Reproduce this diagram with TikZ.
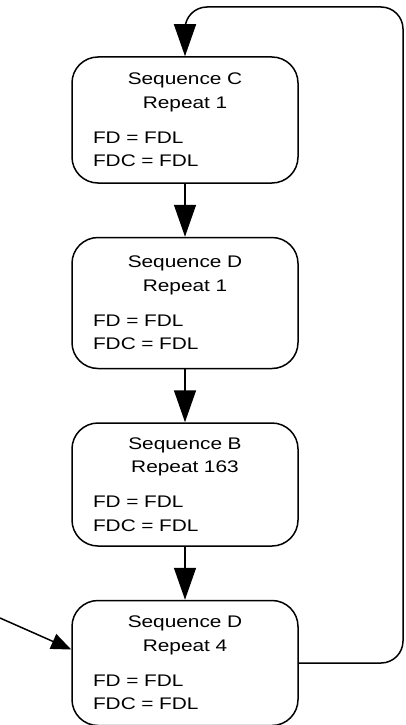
\documentclass[tikz,border=0pt]{standalone}
\usepackage{fontspec}
\setmainfont[FakeStretch=1.24]{Liberation Sans}
\usetikzlibrary{arrows.meta, positioning}

\newcommand{\seqtext}[2]{{\centering Sequence #1\\Repeat #2\par}\vspace{11.5pt}FD = FDL\\FDC = FDL}

\begin{document}
\begin{tikzpicture}[x=1pt, y=-1pt,
  node distance=53pt,
  seq/.style={draw, line width=1.5pt, rounded corners=26pt, text width=184pt,
              inner xsep=21pt, inner ysep=3pt, minimum height=125pt,
              font=\fontsize{16.8}{23.5}\selectfont},
  arr/.style={-{Triangle[length=32pt, width=22pt]}, line width=1.5pt}]
\useasboundingbox (0,0) rectangle (405,725);
\node[seq, minimum height=126pt] (c) at (185,120) {\seqtext{C}{1}};
\node[seq, minimum height=131pt, below=of c] (d1) {\seqtext{D}{1}};
\node[seq, minimum height=123pt, below=of d1] (b) {\seqtext{B}{163}};
\node[seq, below=of b] (d4) {\seqtext{D}{4}};
\foreach \a/\b in {c/d1, d1/b, b/d4} \draw[arr] (\a) -- (\b);
% loop back to the top
\coordinate (loop) at (403,7);
\draw[arr, rounded corners=22pt] (d4.east) -| (loop) -| (c.north);
% entry from the left
\coordinate (src) at (0,618);
\draw[arr, -{Triangle[length=20pt, width=16pt]}] (src) -- ([yshift=13.5pt]d4.west);
\end{tikzpicture}
\end{document}
